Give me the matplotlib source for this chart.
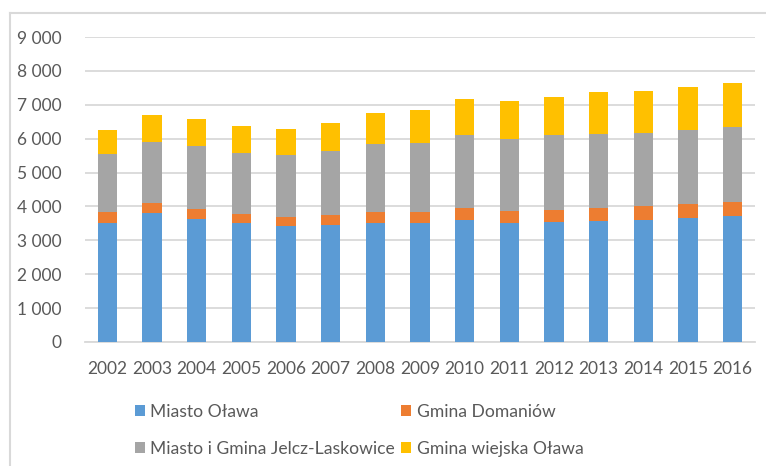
import numpy as np
import matplotlib
matplotlib.use("Agg")
from matplotlib import pyplot as plt
from matplotlib.lines import Line2D
from matplotlib.ticker import FuncFormatter

plt.rcParams['font.family'] = ['Lato', 'DejaVu Sans']

# data
years = ["2002", "2003", "2004", "2005", "2006", "2007", "2008", "2009",
         "2010", "2011", "2012", "2013", "2014", "2015", "2016"]
miasto_olawa = [3520, 3795, 3615, 3520, 3430, 3450, 3520, 3510, 3610, 3510, 3550, 3570, 3610, 3670, 3725]
gmina_domaniow = [325, 320, 298, 270, 257, 295, 325, 335, 354, 360, 354, 393, 394, 394, 394]
jelcz_laskowice = [1690, 1795, 1879, 1786, 1829, 1888, 1996, 2025, 2144, 2118, 2203, 2184, 2163, 2203, 2223]
gmina_wiejska = [719, 777, 777, 806, 776, 835, 905, 965, 1062, 1122, 1122, 1229, 1240, 1268, 1307]

names = ["Miasto Oława", "Gmina Domaniów", "Miasto i Gmina Jelcz-Laskowice", "Gmina wiejska Oława"]
colors = ["#5b9bd5", "#ed7d31", "#a5a5a5", "#ffc000"]
series = [miasto_olawa, gmina_domaniow, jelcz_laskowice, gmina_wiejska]

fig = plt.figure(figsize=(7.66, 4.66), dpi=100)
ax = fig.add_axes([85/766, 1-342/466, 670/766, 305/466])

x = np.arange(len(years))
bottom = np.zeros(len(years))
bars = []
for vals, name, c in zip(series, names, colors):
    b = ax.bar(x, vals, width=0.43, bottom=bottom, color=c, label=name, zorder=3)
    bars.append(b)
    bottom += np.array(vals)

ax.set_xlim(-0.5, len(years) - 0.5)
ax.set_ylim(0, 9000)
ax.set_yticks(np.arange(0, 9001, 1000))
ax.yaxis.set_major_formatter(FuncFormatter(lambda v, p: f"{int(v):,}".replace(",", " ")))
ax.set_xticks(x)
ax.set_xticklabels(years)
ax.grid(axis='y', color='#d9d9d9', linewidth=1.3, zorder=0)
for s in ['top', 'right', 'left']:
    ax.spines[s].set_visible(False)
ax.spines['bottom'].set_color('#d9d9d9')
ax.spines['bottom'].set_linewidth(1.3)
ax.tick_params(axis='both', length=0, labelsize=12.5, colors='#595959')
ax.tick_params(axis='y', pad=17)
ax.tick_params(axis='x', pad=14)

# legend row-wise: put handles in column order
order = [0, 2, 1, 3]
leg = fig.legend([bars[i] for i in order], [names[i] for i in order],
                 loc='upper left', bbox_to_anchor=(135/766, 1-404/466), ncol=2,
                 frameon=False, fontsize=12.6, handlelength=0.58, handleheight=0.58,
                 handletextpad=0.3, columnspacing=0.35, labelspacing=1.2,
                 borderpad=0, borderaxespad=0)
for t in leg.get_texts():
    t.set_color('#595959')

# chart frame
fig.add_artist(Line2D([10/766, 10/766], [0, 1-13/466], color='#d9d9d9', linewidth=1.5))
fig.add_artist(Line2D([10/766, 1], [1-13/466, 1-13/466], color='#d9d9d9', linewidth=1.5))

fig.savefig("out.png", dpi=100)
